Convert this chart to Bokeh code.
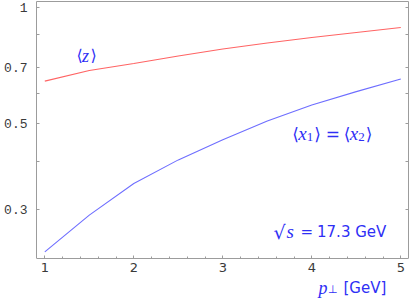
from bokeh.plotting import figure
from bokeh.models import Label, FixedTicker, LogAxis, LinearAxis
from bokeh.embed import file_html
from bokeh.resources import INLINE

# ---- data ----
pt = [1.0, 1.5, 2.0, 2.5, 3.0, 3.5, 4.0, 4.5, 5.0]
z_mean = [0.644, 0.686, 0.715, 0.748, 0.780, 0.808, 0.835, 0.860, 0.886]
x_mean = [0.233, 0.290, 0.350, 0.403, 0.454, 0.508, 0.559, 0.605, 0.652]

x_ticks = [1, 2, 3, 4, 5]
y_ticks = [0.3, 0.5, 0.7, 1.0]
y_minor = [0.4, 0.6, 0.85]

X0, X1 = 0.9067, 5.0865        # plot box in x
Y0, Y1 = 0.2245, 1.0345        # plot box in y (log)
Y_LOW = 0.1745                 # canvas bottom (room for the x label)

RED = "#ff6464"
BLUE = "#6e6eff"
TXT = "#2f2ff5"
GRAY = "#9c9c9c"
SANS = "DejaVu Sans"
SERIF = "Liberation Serif"

p = figure(width=409, height=300, x_range=(X0, X1), y_range=(Y_LOW, Y1),
           y_axis_type="log", output_backend="svg", toolbar_location=None,
           min_border_left=36, min_border_right=1, min_border_top=1, min_border_bottom=0)
p.background_fill_color = "white"
p.border_fill_color = "white"
p.outline_line_color = None
p.grid.visible = False

p.line(pt, z_mean, line_color=RED, line_width=1.1)
p.line(pt, x_mean, line_color=BLUE, line_width=1.1)

# x axis, drawn at the bottom of the plot box
xa = p.xaxis[0]
xa.fixed_location = Y0
xa.ticker = FixedTicker(ticks=x_ticks,
                        minor_ticks=[1 + 0.2 * i for i in range(21)])
xa.axis_line_color = GRAY
xa.major_tick_line_color = GRAY
xa.minor_tick_line_color = GRAY
xa.major_tick_in = 3
xa.major_tick_out = 0
xa.minor_tick_in = 2
xa.minor_tick_out = 0
xa.major_label_text_font = SANS
xa.major_label_text_font_size = "13px"
xa.major_label_text_color = "#3a3a3a"
xa.major_label_standoff = 5

# y axis
ya = p.yaxis[0]
ya.bounds = (Y0, Y1)
ya.ticker = FixedTicker(ticks=y_ticks, minor_ticks=y_minor)
ya.major_label_overrides = {0.3: "0.3", 0.5: "0.5", 0.7: "0.7", 1.0: "1"}
ya.axis_line_color = GRAY
ya.major_tick_line_color = GRAY
ya.minor_tick_line_color = GRAY
ya.major_tick_in = 3
ya.major_tick_out = 0
ya.minor_tick_in = 3
ya.minor_tick_out = 0
ya.major_label_text_font = "Liberation Mono"
ya.major_label_text_font_size = "13px"
ya.major_label_text_color = "#3a3a3a"
ya.major_label_standoff = 9

# right frame edge with ticks only
ra = LogAxis(ticker=FixedTicker(ticks=y_ticks, minor_ticks=y_minor), bounds=(Y0, Y1))
ra.axis_line_color = GRAY
ra.major_tick_line_color = GRAY
ra.minor_tick_line_color = GRAY
ra.major_tick_in = 3
ra.major_tick_out = 0
ra.minor_tick_in = 3
ra.minor_tick_out = 0
ra.major_label_overrides = {v: "" for v in y_ticks}
ra.major_label_standoff = 0
p.add_layout(ra, "right")

# top frame edge
ta = LinearAxis(ticker=FixedTicker(ticks=[], minor_ticks=[]))
ta.axis_line_color = GRAY
ta.major_tick_in = 0
ta.major_tick_out = 0
ta.minor_tick_in = 0
ta.minor_tick_out = 0
ta.major_label_standoff = 0
p.add_layout(ta, "above")


def math_label(x, y, pieces):
    for txt, font, style, size, dx, dy in pieces:
        p.add_layout(Label(x=x, y=y, x_offset=dx, y_offset=dy, text=txt,
                           text_font=font, text_font_style=style,
                           text_font_size=f"{size}px", text_color=TXT,
                           text_align="left", text_baseline="alphabetic"))


math_label(1.356, 0.749, [
    ("⟨", SANS, "normal", 16, 0, 0),
    ("z", SERIF, "italic", 18, 5.5, 0),
    ("⟩", SANS, "normal", 16, 14, 0),
])

math_label(3.78, 0.471, [
    ("⟨", SANS, "normal", 17, 0, 0),
    ("x", SERIF, "italic", 19, 6, 0),
    ("1", SERIF, "normal", 13, 14.5, -3),
    ("⟩", SANS, "normal", 17, 22, 0),
    ("=", SANS, "normal", 17, 33.5, 0),
    ("⟨", SANS, "normal", 17, 51.5, 0),
    ("x", SERIF, "italic", 19, 57.5, 0),
    ("2", SERIF, "normal", 13, 66, -3),
    ("⟩", SANS, "normal", 17, 73.5, 0),
])

math_label(3.57, 0.263, [
    ("√", SANS, "normal", 19, 0, 0),
    ("s", SERIF, "italic", 19, 13, 0),
    ("=", SANS, "normal", 15, 27, 0),
    ("17.3 GeV", SANS, "normal", 15, 43.5, 0),
])

math_label(4.075, 0.188, [
    ("p", SERIF, "italic", 18, 0, 0),
    ("⊥", SANS, "normal", 11, 9.5, -2),
    ("[GeV]", SANS, "normal", 15, 25, 0),
])

open("out.html", "w").write(file_html(p, INLINE))
